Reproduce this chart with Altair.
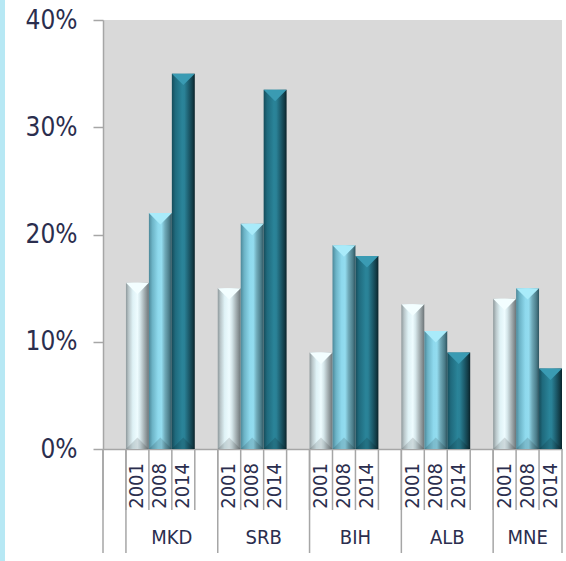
import altair as alt
import pandas as pd

# Share by country and census year (percent)
countries = ["MKD", "SRB", "BIH", "ALB", "MNE"]
years = ["2001", "2008", "2014"]
share_2001 = [15.5, 15.0, 9.0, 13.5, 14.0]
share_2008 = [22.0, 21.0, 19.0, 11.0, 15.0]
share_2014 = [35.0, 33.5, 18.0, 9.0, 7.5]

FONT = "DejaVu Sans Condensed, DejaVu Sans"
TEXT = "#2b2e4e"
GRID = "#a6a6a6"

# band slots: a spacer before each group of three years
slots = []
for i, c in enumerate(countries):
    slots.append(f"_{i}")
    slots += [f"{c}|{y}" for y in years]

rows = []
for c, a, b, d in zip(countries, share_2001, share_2008, share_2014):
    for y, v in zip(years, (a, b, d)):
        rows.append({"slot": f"{c}|{y}", "country": c, "year": y, "share": v})
df = pd.DataFrame(rows)

W, H = 459, 429

x_axis = alt.Axis(title=None, labels=False, ticks=False, domainColor=GRID, domainWidth=1.5)
x_scale = alt.Scale(domain=slots, paddingInner=0, paddingOuter=0)
y_scale = alt.Scale(domain=[0, 40], nice=False)
y_axis = alt.Axis(
    title=None, values=[0, 10, 20, 30, 40], labelExpr="datum.value + '%'",
    labelFont=FONT, labelFontSize=26, labelColor=TEXT, labelPadding=16,
    tickSize=10, tickColor=GRID, tickWidth=1.5,
    domainColor=GRID, domainWidth=1.5, grid=False,
)


def xenc(pos=0.5):
    return alt.X("slot:N", scale=x_scale, axis=x_axis, bandPosition=pos)


def grad(stops):
    return alt.Gradient(
        gradient="linear", x1=0, x2=1, y1=0, y2=0,
        stops=[alt.GradientStop(offset=o, color=c) for o, c in stops],
    )


fills = {
    "2001": grad([(0, "#8e999c"), (0.12, "#b9c6c9"), (0.3, "#dff2f6"), (0.5, "#eefcff"),
                  (0.62, "#d5e6ea"), (0.8, "#a4afb2"), (1, "#6d7578")]),
    "2008": grad([(0, "#4d8899"), (0.15, "#6cb3c6"), (0.4, "#8ed9ed"), (0.55, "#93dcef"),
                  (0.7, "#6fa9b8"), (0.88, "#4c7e8b"), (1, "#2f5560")]),
    "2014": grad([(0, "#164c5a"), (0.15, "#1f6a7d"), (0.45, "#2a8499"), (0.55, "#2a8196"),
                  (0.75, "#1c5a6a"), (0.9, "#123c47"), (1, "#0a2229")]),
}
caps = {"2001": "#f3feff", "2008": "#a9ebfa", "2014": "#3a9bb3"}

base = alt.Chart(df)
Y = alt.Y("share:Q", scale=y_scale, axis=y_axis)

layers = []
bw = W / len(slots)
for y in years:
    sub = base.transform_filter(alt.datum.year == y)
    layers.append(sub.mark_bar(color=fills[y], strokeWidth=0).encode(x=xenc(), y=Y))
    # bevelled top face
    layers.append(
        sub.mark_point(shape="M-1,0L1,0L0,1Z", filled=True, size=bw * bw,
                       color=caps[y], opacity=1, strokeWidth=0).encode(x=xenc(), y=Y)
    )
    # darker bevel at the foot of each bar
    layers.append(
        sub.transform_calculate(zero="0")
        .mark_point(shape="M-1,0L1,0L0,-1Z", filled=True, size=bw * bw,
                    color="#000000", opacity=0.13, strokeWidth=0)
        .encode(x=xenc(), y=alt.Y("zero:Q", scale=y_scale, axis=y_axis))
    )

rule_kw = dict(color=GRID, strokeWidth=1.5)
slot_df = pd.DataFrame({"slot": slots})
# short tick at every slot edge below the axis
layers.append(
    alt.Chart(slot_df).mark_rule(**rule_kw).encode(x=xenc(0), y=alt.value(H), y2=alt.value(H + 61))
)
# long separators between country groups, plus the closing edge
bounds = pd.DataFrame({"slot": ["_0"] + [f"{c}|2001" for c in countries]})
layers.append(
    alt.Chart(bounds).mark_rule(**rule_kw).encode(x=xenc(0), y=alt.value(H), y2=alt.value(H + 104))
)
layers.append(
    alt.Chart(pd.DataFrame({"slot": [slots[-1]]})).mark_rule(**rule_kw)
    .encode(x=xenc(1), y=alt.value(H), y2=alt.value(H + 104))
)

# year labels, reading upwards
layers.append(
    base.mark_text(font=FONT, fontSize=20, color=TEXT, angle=270, align="right", baseline="middle")
    .encode(x=xenc(), y=alt.value(H + 14), text="year:N")
)

# country names centred under their groups
labels = pd.DataFrame({"slot": [f"{c}|2008" for c in countries], "country": countries})
text_kw = dict(font=FONT, fontSize=20, color=TEXT, baseline="middle", align="center")
layers.append(
    alt.Chart(labels).transform_filter(alt.datum.country != countries[-1])
    .mark_text(**text_kw).encode(x=xenc(1), y=alt.value(H + 89), text="country:N")
)
layers.append(
    alt.Chart(labels).transform_filter(alt.datum.country == countries[-1])
    .mark_text(**text_kw).encode(x=xenc(0.5), y=alt.value(H + 89), text="country:N")
)

# light blue strip along the left edge of the page
layers.append(
    alt.Chart(pd.DataFrame({"k": [0]})).mark_rect(color="#b7e8f4").encode(
        x=alt.value(-103), x2=alt.value(-98), y=alt.value(-20), y2=alt.value(H + 112),
    )
)

chart = (
    alt.layer(*layers)
    .properties(
        width=W, height=H,
        autosize=alt.AutoSizeParams(type="none"),
        padding={"left": 103, "top": 20, "right": 4, "bottom": 112},
        background="white",
    )
    .configure_view(fill="#d9d9d9", stroke=None)
)

chart.save("out.html", embed_options={"renderer": "svg", "actions": False})
